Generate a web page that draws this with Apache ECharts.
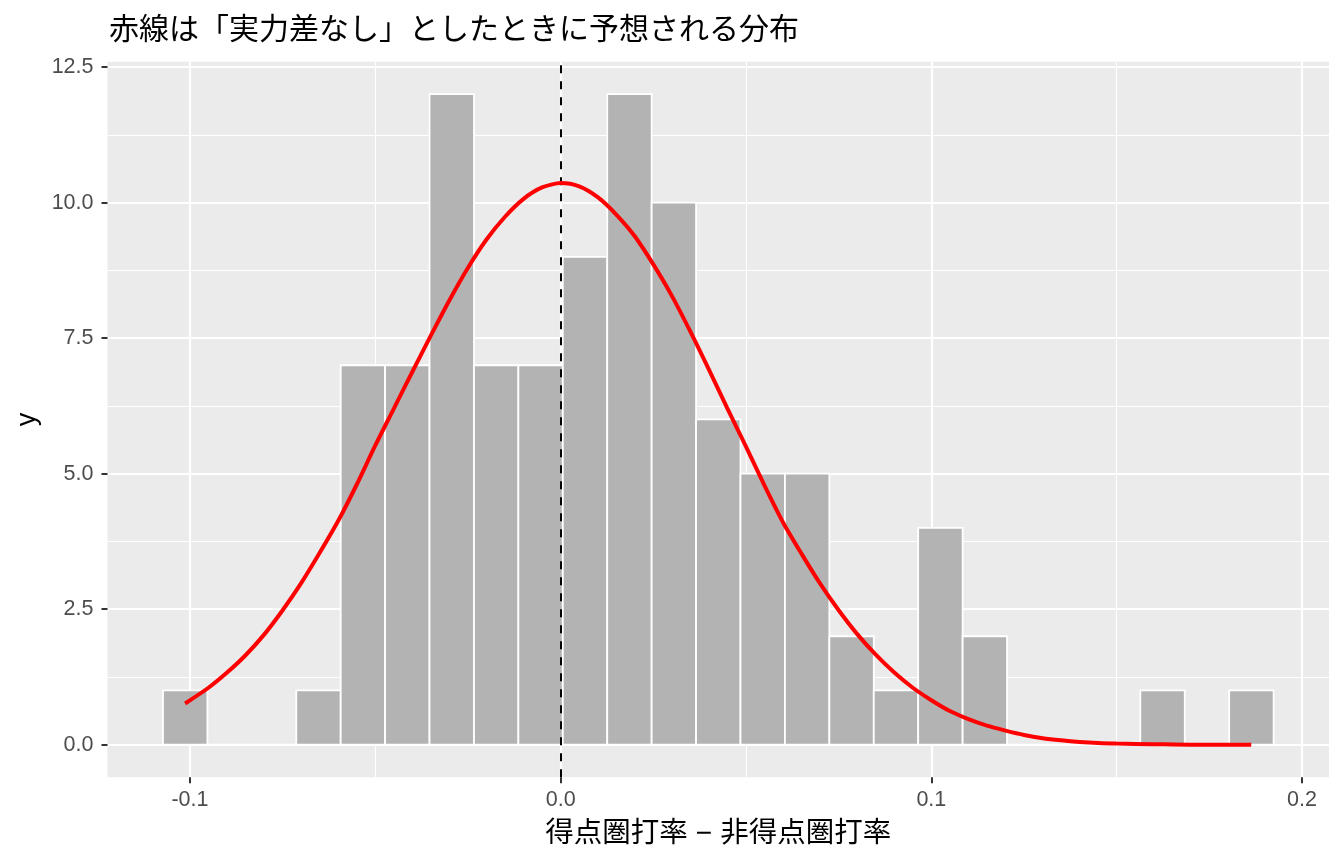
<!DOCTYPE html>
<html>
<head>
<meta charset="utf-8">
<title>histogram</title>
<script src="https://cdn.jsdelivr.net/npm/echarts@6.0.0/dist/echarts.min.js"></script>
<style>
    html, body {margin: 0; padding: 0; background: #fff;}
    #charts {width: 1344px; height: 864px;}
</style>
</head>
<body>
<div id="charts"></div>
<script>
// ヒストグラムの区切り（ビンの端）と度数
var binEdges = [-0.10727, -0.09529, -0.08330, -0.07132, -0.05933, -0.04735, -0.03537, -0.02338, -0.01140,
    0.00058, 0.01257, 0.02455, 0.03653, 0.04852, 0.06050, 0.07249, 0.08447, 0.09645, 0.10844,
    0.12042, 0.13241, 0.14439, 0.15637, 0.16836, 0.18034, 0.19233];
var binCounts = [1, 0, 0, 1, 7, 7, 12, 7, 7, 9, 12, 10, 6, 5, 5, 2, 1, 4, 2, 0, 0, 0, 1, 0, 1];

// 赤線（実力差なしの場合の分布）
var curveX = [-0.1013, -0.095, -0.090, -0.085, -0.080, -0.075, -0.070, -0.065, -0.060, -0.055,
    -0.050, -0.045, -0.040, -0.035, -0.030, -0.025, -0.020, -0.015, -0.010, -0.005,
    0.000, 0.005, 0.010, 0.015, 0.020, 0.025, 0.030, 0.035, 0.040, 0.045,
    0.050, 0.055, 0.060, 0.065, 0.070, 0.075, 0.080, 0.085, 0.090, 0.095,
    0.100, 0.105, 0.110, 0.115, 0.120, 0.125, 0.130, 0.135, 0.140, 0.145,
    0.150, 0.160, 0.170, 0.1863];
var curveY = [0.76, 1.05, 1.33, 1.65, 2.03, 2.48, 2.98, 3.54, 4.13, 4.80,
    5.52, 6.20, 6.88, 7.55, 8.20, 8.80, 9.32, 9.74, 10.07, 10.28,
    10.36, 10.30, 10.10, 9.78, 9.38, 8.86, 8.28, 7.62, 6.92, 6.20,
    5.50, 4.78, 4.10, 3.52, 2.97, 2.48, 2.04, 1.66, 1.33, 1.05,
    0.82, 0.62, 0.47, 0.35, 0.26, 0.18, 0.12, 0.08, 0.05, 0.03,
    0.02, 0.01, 0.00, 0.00];

// 目盛り
var xTicks = [-0.1, 0.0, 0.1, 0.2];
var xTickLabels = ['-0.1', '0.0', '0.1', '0.2'];
var xMinorTicks = [-0.05, 0.05, 0.15];
var yTicks = [0, 2.5, 5, 7.5, 10, 12.5];
var yTickLabels = ['0.0', '2.5', '5.0', '7.5', '10.0', '12.5'];
var yMinorTicks = [1.25, 3.75, 6.25, 8.75, 11.25];

var titleText = '赤線は「実力差なし」としたときに予想される分布';
var xName = '得点圏打率 − 非得点圏打率';
var yName = 'y';

var X_MIN = -0.12224, X_MAX = 0.20727;
var Y_MIN = -0.6, Y_MAX = 12.6;

var histData = [];
for (var i = 0; i < binCounts.length; i++) {
    histData.push([binEdges[i], binEdges[i + 1], binCounts[i]]);
}
var curveData = [];
for (var j = 0; j < curveX.length; j++) {
    curveData.push([curveX[j], curveY[j]]);
}

function labelOf(ticks, labels) {
    return function (v) {
        for (var k = 0; k < ticks.length; k++) {
            if (Math.abs(ticks[k] - v) < 1e-9) return labels[k];
        }
        return '';
    };
}

var myChart = echarts.init(document.getElementById('charts'));
var option = {
    animation: false,
    backgroundColor: '#FFFFFF',
    title: {
        text: titleText,
        left: 104,
        top: 8,
        textStyle: {
            fontFamily: 'Noto Sans CJK JP',
            fontSize: 30,
            fontWeight: 'normal',
            color: '#000000'
        }
    },
    grid: {
        left: 107.5,
        right: 15,
        top: 61.7,
        bottom: 86.8,
        show: true,
        backgroundColor: '#EBEBEB',
        borderWidth: 0
    },
    xAxis: [
        {
            type: 'value',
            min: X_MIN,
            max: X_MAX,
            name: xName,
            nameLocation: 'middle',
            nameGap: 43,
            nameTextStyle: {fontFamily: 'Liberation Sans, Noto Sans CJK JP', fontSize: 28.5, color: '#000000'},
            axisLine: {show: false, onZero: false},
            axisTick: {show: true, length: 6, customValues: xTicks, lineStyle: {color: '#333333', width: 2}},
            axisLabel: {
                customValues: xTicks,
                margin: 12,
                fontFamily: 'Liberation Sans',
                fontSize: 21.5,
                color: '#4D4D4D',
                formatter: labelOf(xTicks, xTickLabels)
            },
            splitLine: {show: true, lineStyle: {color: '#FFFFFF', width: 2.2}}
        },
        {
            // 補助目盛り線
            type: 'value',
            min: X_MIN,
            max: X_MAX,
            position: 'top',
            axisLine: {show: false, onZero: false},
            axisTick: {show: false, customValues: xMinorTicks},
            axisLabel: {show: false, customValues: xMinorTicks},
            splitLine: {show: true, lineStyle: {color: '#FFFFFF', width: 1.1}}
        }
    ],
    yAxis: [
        {
            type: 'value',
            min: Y_MIN,
            max: Y_MAX,
            name: yName,
            nameLocation: 'middle',
            nameGap: 60,
            nameRotate: 90,
            nameTextStyle: {fontFamily: 'Liberation Sans, Noto Sans CJK JP', fontSize: 27, color: '#000000'},
            axisLine: {show: false, onZero: false},
            axisTick: {show: true, length: 6, customValues: yTicks, lineStyle: {color: '#333333', width: 2}},
            axisLabel: {
                customValues: yTicks,
                margin: 14,
                fontFamily: 'Liberation Sans',
                fontSize: 21.5,
                color: '#4D4D4D',
                formatter: labelOf(yTicks, yTickLabels)
            },
            splitLine: {show: true, lineStyle: {color: '#FFFFFF', width: 2.2}}
        },
        {
            type: 'value',
            min: Y_MIN,
            max: Y_MAX,
            position: 'right',
            axisLine: {show: false, onZero: false},
            axisTick: {show: false, customValues: yMinorTicks},
            axisLabel: {show: false, customValues: yMinorTicks},
            splitLine: {show: true, lineStyle: {color: '#FFFFFF', width: 1.1}}
        }
    ],
    series: [
        {
            type: 'custom',
            xAxisIndex: 0,
            yAxisIndex: 0,
            z: 2,
            data: histData,
            renderItem: function (params, api) {
                var p0 = api.coord([api.value(0), api.value(2)]);
                var p1 = api.coord([api.value(1), 0]);
                return {
                    type: 'rect',
                    shape: {x: p0[0], y: p0[1], width: p1[0] - p0[0], height: p1[1] - p0[1]},
                    style: {fill: '#B3B3B3', stroke: '#FFFFFF', lineWidth: 1.8}
                };
            },
            markLine: {
                silent: true,
                symbol: ['none', 'none'],
                label: {show: false},
                lineStyle: {color: '#000000', width: 2, type: [8, 8]},
                data: [{xAxis: 0}]
            }
        },
        {
            type: 'line',
            xAxisIndex: 0,
            yAxisIndex: 0,
            z: 10,
            data: curveData,
            showSymbol: false,
            smooth: 0.25,
            lineStyle: {color: '#FF0000', width: 4},
            itemStyle: {color: '#FF0000'}
        }
    ]
};
myChart.setOption(option);
</script>
</body>
</html>
